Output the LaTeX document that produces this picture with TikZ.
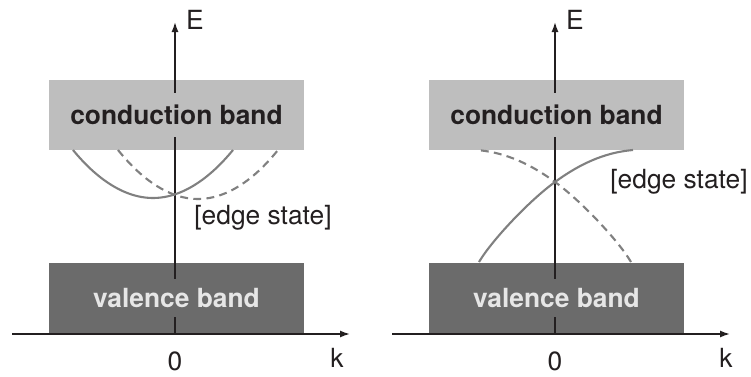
\documentclass[tikz,border=0pt]{standalone}
\usepackage{fontspec}
\setmainfont{TeX Gyre Heros}
\usetikzlibrary{arrows.meta}
\definecolor{Ink}{HTML}{231F20}
\definecolor{CondGray}{HTML}{BEBEBE}
\definecolor{ValGray}{HTML}{6B6B6B}
\definecolor{ValText}{HTML}{E6E6E6}
\definecolor{CurveGray}{HTML}{808080}

\begin{document}
\begin{tikzpicture}[x=0.02cm, y=-0.02cm, every node/.style={font=\fontsize{15}{18}\selectfont, text=Ink}, band/.style={inner sep=0pt, minimum width=5.12cm, minimum height=1.4cm}, bandlabel/.style={font=\fontsize{15}{18}\selectfont\bfseries, inner xsep=2pt}, axis/.style={-{Latex[length=2mm,width=1.4mm]}, line width=0.85pt, color=Ink}, state/.style={line width=1.2pt, color=CurveGray}, ghost/.style={state, dash pattern=on 4.5pt off 3pt}]
\useasboundingbox (0,0) rectangle (751,376);
\foreach \p/\dx/\kx in {l/0/337, r/380/726}{
\node[band,fill=CondGray] (cb\p) at (176.5+\dx,115) {};
\node[band,fill=ValGray] (vb\p) at (176.5+\dx,298) {};
\coordinate (o\p) at (175+\dx,334);
\coordinate (etop\p) at (175+\dx,22);
\coordinate (kbeg\p) at (12+\dx,334);
\coordinate (kend\p) at (350+\dx,334);
\draw[axis] (o\p)--(etop\p);
\draw[axis] (kbeg\p)--(kend\p);
\node[bandlabel,fill=CondGray,inner ysep=0.25cm] (ct\p) at (cb\p) {conduction band};
\node[bandlabel,fill=ValGray,text=ValText,inner ysep=0.18cm] (vt\p) at (vb\p) {valence band};
\node (e\p) at (195+\dx,20) {E};
\node (z\p) at (175+\dx,361) {0};
\node (k\p) at (\kx,358) {k};
}
% left: parabolic edge states
\draw[state] (73,150) parabola bend (153,198) (233,150);
\draw[ghost] (118,150) parabola bend (198,199) (278,150);
\node (esl) at (263,218) {[edge state]};
% right: gapless edge states, crossing at k=0
\coordinate (x0) at (555,182);
\draw[state] (479,262) .. controls (492,240) and (530,200) .. (x0) .. controls (585,160) and (610,152) .. (633,150);
\draw[ghost] (631,262) .. controls (618,240) and (580,200) .. (x0) .. controls (525,160) and (500,152) .. (477,150);
\node (esr) at (679,182) {[edge state]};
\end{tikzpicture}
\end{document}
